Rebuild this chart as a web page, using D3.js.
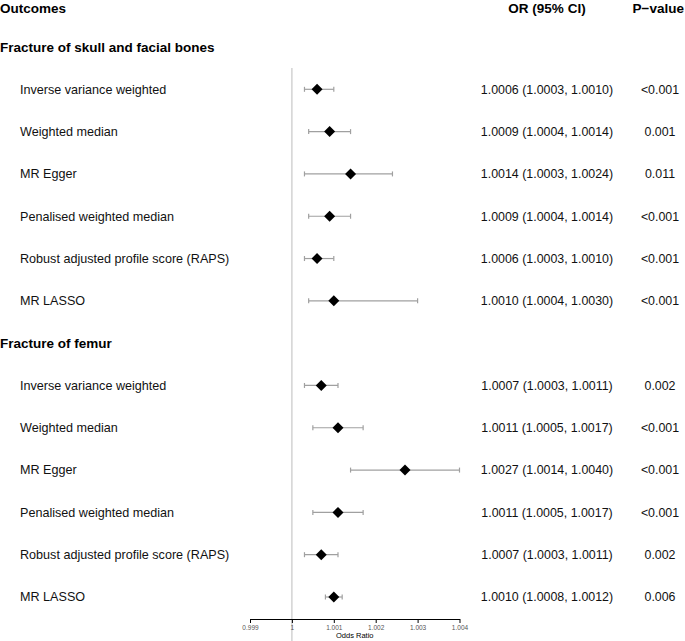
<!DOCTYPE html>
<html><head><meta charset="utf-8">
<script src="https://cdn.jsdelivr.net/npm/d3@7"></script>
<style>body{margin:0;background:#fff;}svg{display:block;font-family:"Liberation Sans",Arial,sans-serif;}</style>
</head><body><svg id="c" width="685" height="641"></svg>
<script>
const groups = ["Fracture of skull and facial bones", "Fracture of femur"];
const methods = ["Inverse variance weighted","Weighted median","MR Egger","Penalised weighted median","Robust adjusted profile score (RAPS)","MR LASSO"];
const skullOR  = [1.0006, 1.0009, 1.0014, 1.0009, 1.0006, 1.0010];
const skullLo  = [1.0003, 1.0004, 1.0003, 1.0004, 1.0003, 1.0004];
const skullHi  = [1.0010, 1.0014, 1.0024, 1.0014, 1.0010, 1.0030];
const skullP   = ["<0.001","0.001","0.011","<0.001","<0.001","<0.001"];
const femurOR  = [1.0007, 1.0011, 1.0027, 1.0011, 1.0007, 1.0010];
const femurLo  = [1.0003, 1.0005, 1.0014, 1.0005, 1.0003, 1.0008];
const femurHi  = [1.0011, 1.0017, 1.0040, 1.0017, 1.0011, 1.0012];
const femurP   = ["0.002","<0.001","<0.001","<0.001","0.002","0.006"];
const tickVals = [0.999, 1, 1.001, 1.002, 1.003, 1.004];
const tickLabels = ["0.999","1","1.001","1.002","1.003","1.004"];

const svg = d3.select("#c");
const rows = [];
rows.push({type:"head"});
[[skullOR,skullLo,skullHi,skullP],[femurOR,femurLo,femurHi,femurP]].forEach((g,gi)=>{
  rows.push({type:"group", label:groups[gi]});
  methods.forEach((m,i)=>rows.push({type:"row", label:m, or:g[0][i], lo:g[1][i], hi:g[2][i], p:g[3][i]}));
});
const y = d3.scaleLinear().domain([1, rows.length-1]).range([47, 597]);
const x = d3.scaleLinear().domain([0.999, 1.004]).range([250, 459.5]);
const fmt = d3.format(".4f");

// reference line
svg.append("line").attr("x1",x(1)).attr("x2",x(1)).attr("y1",68).attr("y2",641)
  .attr("stroke","#c8c8c8").attr("stroke-width",1.2);

// headers
const hy = 8;
svg.append("text").attr("x",0).attr("y",hy).attr("dy","0.35em").attr("font-weight","bold").attr("font-size",13.5).text("Outcomes");
svg.append("text").attr("x",547).attr("y",hy).attr("dy","0.35em").attr("text-anchor","middle").attr("font-weight","bold").attr("font-size",13.5).text("OR (95% CI)");
svg.append("text").attr("x",684).attr("y",hy).attr("dy","0.35em").attr("text-anchor","end").attr("font-weight","bold").attr("font-size",13.5).text("P\u2212value");

rows.forEach((r,i)=>{
  const yy = y(i);
  if (r.type==="group") {
    svg.append("text").attr("x",0).attr("y",yy).attr("dy","0.35em").attr("font-weight","bold").attr("font-size",13.5).text(r.label);
  } else if (r.type==="row") {
    svg.append("text").attr("x",20).attr("y",yy).attr("dy","0.35em").attr("font-size",12.6).attr("fill","#111").text(r.label);
    svg.append("text").attr("x",547).attr("y",yy).attr("dy","0.35em").attr("text-anchor","middle").attr("font-size",12.4).attr("fill","#111")
      .text(`${fmt(r.or)} (${fmt(r.lo)}, ${fmt(r.hi)})`);
    svg.append("text").attr("x",660).attr("y",yy).attr("dy","0.35em").attr("text-anchor","middle").attr("font-size",12.4).attr("fill","#111").text(r.p);
    const g = svg.append("g").attr("stroke","#a0a0a0").attr("stroke-width",1.2);
    g.append("line").attr("x1",x(r.lo)).attr("x2",x(r.hi)).attr("y1",yy).attr("y2",yy);
    g.append("line").attr("x1",x(r.lo)).attr("x2",x(r.lo)).attr("y1",yy-2.5).attr("y2",yy+2.5);
    g.append("line").attr("x1",x(r.hi)).attr("x2",x(r.hi)).attr("y1",yy-2.5).attr("y2",yy+2.5);
    const s = 5.5;
    svg.append("path").attr("d",`M${x(r.or)},${yy-s}L${x(r.or)+s},${yy}L${x(r.or)},${yy+s}L${x(r.or)-s},${yy}Z`).attr("fill","#000");
  }
});

// axis
const axis = d3.axisBottom(x).tickValues(tickVals).tickFormat((d,i)=>tickLabels[i]).tickSize(4).tickSizeOuter(0);
const ag = svg.append("g").attr("transform","translate(0,619)").call(axis);
ag.select(".domain").attr("stroke","#000");
ag.selectAll(".tick line").attr("stroke","#000");
ag.selectAll(".tick text").attr("font-size",6.5).attr("fill","#555").attr("font-family","Liberation Sans, Arial, sans-serif").attr("dy","0.6em");
svg.append("text").attr("x",x(1.0015)).attr("y",638).attr("text-anchor","middle").attr("font-size",7.5).attr("fill","#000").text("Odds Ratio");
</script></body></html>
